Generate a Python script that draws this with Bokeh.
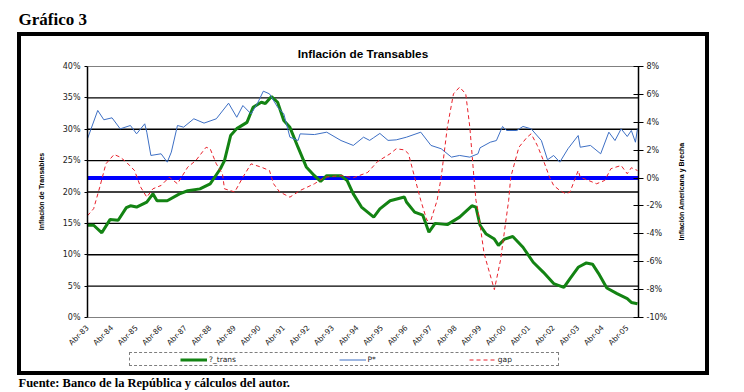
from math import pi
from bokeh.plotting import figure
from bokeh.models import (Range1d, LinearAxis, Label, Legend, LegendItem,
                          FixedTicker, PrintfTickFormatter)
from bokeh.embed import file_html
from bokeh.resources import INLINE

# ---------------- data (months counted from Abr-83) ----------------
year_labels = ["Abr-83", "Abr-84", "Abr-85", "Abr-86", "Abr-87", "Abr-88", "Abr-89", "Abr-90",
               "Abr-91", "Abr-92", "Abr-93", "Abr-94", "Abr-95", "Abr-96", "Abr-97", "Abr-98",
               "Abr-99", "Abr-00", "Abr-01", "Abr-02", "Abr-03", "Abr-04", "Abr-05"]
label_months = [0, 12, 24, 36, 48, 60, 72, 84, 96, 108, 120, 132, 144, 156, 168, 180,
                192, 204, 216, 228, 240, 252, 264]

trans_month = [0, 3, 7, 11, 15, 19, 21, 24, 29, 32, 34, 39, 45, 49, 55, 60, 65, 67, 70, 73,
               78, 81, 85, 87, 90, 93, 96, 99, 103, 107, 111, 114, 117, 124, 127, 130, 134,
               140, 143, 148, 155, 156, 160, 164, 167, 170, 176, 182, 188, 190, 192, 195, 199,
               201, 204, 208, 213, 218, 223, 228, 233, 236, 240, 244, 247, 250, 254, 259, 264,
               266, 269]
trans_val = [14.7, 14.7, 13.5, 15.6, 15.5, 17.5, 17.8, 17.6, 18.4, 19.7, 18.6, 18.6, 19.7, 20.2,
             20.5, 21.3, 23.7, 25.0, 29.0, 30.1, 31.1, 33.5, 34.3, 34.1, 35.2, 34.3, 31.4, 30.3,
             27.1, 24.0, 22.6, 21.7, 22.6, 22.6, 21.8, 19.7, 17.6, 16.0, 17.3, 18.6, 19.2, 18.4,
             16.8, 16.3, 13.6, 15.0, 14.8, 16.0, 17.8, 17.6, 14.7, 13.3, 12.5, 11.5, 12.5, 12.9,
             11.2, 8.8, 7.2, 5.4, 4.8, 6.2, 8.0, 8.7, 8.5, 7.0, 4.7, 3.8, 3.0, 2.4, 2.2]

pstar_month = [0, 5, 8, 12, 16, 21, 24, 28, 29, 31, 36, 39, 41, 44, 47, 52, 57, 63, 69, 73,
               76, 80, 83, 86, 89, 93, 96, 99, 103, 104, 111, 117, 124, 130, 135, 138, 140, 143,
               147, 151, 156, 163, 168, 173, 178, 182, 187, 191, 192, 197, 200, 203, 205, 210,
               213, 217, 222, 225, 228, 231, 235, 240, 241, 246, 251, 255, 258, 261, 264, 266,
               268, 269]
pstar_val = [2.82, 4.85, 4.18, 4.32, 3.53, 3.77, 3.17, 3.89, 3.29, 1.62, 1.74, 1.14, 1.86, 3.77,
             3.65, 4.25, 3.94, 4.25, 5.37, 4.36, 5.20, 4.60, 5.32, 6.23, 6.04, 5.08, 4.61, 2.93,
             2.69, 3.17, 3.12, 3.29, 2.69, 2.34, 2.93, 2.70, 2.90, 3.20, 2.70, 2.74, 2.93, 3.29,
             2.34, 2.10, 1.50, 1.62, 1.50, 1.74, 2.17, 2.57, 2.69, 3.70, 3.41, 3.41, 3.70, 3.53,
             2.69, 1.31, 1.62, 1.14, 2.10, 3.05, 2.21, 2.34, 1.74, 3.29, 2.69, 3.53, 2.98, 3.41,
             2.57, 3.53]

gap_month = [0, 3, 6, 9, 13, 16, 19, 23, 26, 29, 32, 36, 40, 44, 49, 53, 58, 60, 63, 66, 67,
             72, 76, 80, 85, 89, 91, 94, 99, 104, 111, 116, 124, 130, 137, 142, 148, 151, 155,
             157, 160, 163, 166, 168, 171, 173, 176, 179, 182, 185, 187, 189, 190, 191, 194,
             199, 202, 206, 207, 211, 215, 217, 220, 223, 226, 228, 231, 234, 236, 240, 241,
             245, 249, 253, 256, 261, 264, 266, 269]
gap_val = [-2.7, -2.2, -0.65, 1.02, 1.69, 1.50, 1.14, 0.54, -0.65, -1.37, -0.77, -0.53, 0.06,
           -0.41, 0.78, 1.26, 2.21, 2.10, 1.02, 0.31, -0.77, -1.0, 0.06, 1.02, 0.78, 0.54, -0.41,
           -1.0, -1.37, -0.89, -0.41, 0.06, 0.18, 0.02, 0.4, 1.2, 1.74, 2.10, 2.02, 1.74, 0.06,
           -1.6, -3.04, -3.0, -1.6, 0.06, 3.65, 6.04, 6.52, 6.04, 3.65, 0.06, -1.6, -2.33, -5.43,
           -8.0, -5.9, -1.6, 0.06, 2.21, 2.93, 3.17, 2.34, 1.26, 0.06, -0.53, -0.89, -1.13, -1.0,
           0.54, 0.06, -0.17, -0.41, -0.17, 0.67, 0.9, 0.31, 0.74, 0.54]

left_ticks = [0, 5, 10, 15, 20, 25, 30, 35, 40]
right_ticks = [-10, -8, -6, -4, -2, 0, 2, 4, 6, 8]

# ---------------- geometry (pixels of the 744x392 page) ----------------
W, H = 744, 392
PX0, PX1 = 87, 638      # plot area left / right
PY0, PY1 = 66, 317      # plot area top / bottom
X0, X1 = 0, 269.5       # month extent of the plot area
L0, L1 = left_ticks[0], left_ticks[-1]
R0, R1 = right_ticks[0], right_ticks[-1]

def extend(a, b, p_lo, p_hi, p_before, p_after):
    k = (b - a) / (p_hi - p_lo)
    return a - k * p_before, b + k * p_after

xr = extend(X0, X1, PX0, PX1, PX0, W - PX1)
yl = extend(L0, L1, PY0, PY1, H - PY1, PY0)
yr = extend(R0, R1, PY0, PY1, H - PY1, PY0)

SANS = "Liberation Sans"
SERIF = "Liberation Serif"
TICK = "DejaVu Sans"
NB = "\u00a0"

frame_css = {
    "background-color": "white",
    "background-image": ", ".join(["linear-gradient(#000, #000)"] * 4),
    "background-size": "692px 4px, 692px 4px, 4px 343px, 4px 343px",
    "background-position": "17px 32px, 17px 371px, 17px 32px, 705px 32px",
    "background-repeat": "no-repeat",
}

p = figure(width=W, height=H, output_backend="svg", toolbar_location=None, title=None,
           x_range=Range1d(*xr), y_range=Range1d(*yl),
           min_border_left=0, min_border_right=0, min_border_top=0, min_border_bottom=0,
           styles=frame_css)
p.extra_y_ranges = {"right": Range1d(*yr)}
p.background_fill_color = None
p.border_fill_color = None
p.outline_line_color = None
p.xgrid.visible = False
p.ygrid.visible = False

# left axis (drawn at the left edge of the plot area)
ya = p.yaxis[0]
ya.fixed_location = X0
ya.bounds = (L0, L1)
ya.ticker = FixedTicker(ticks=left_ticks)
ya.formatter = PrintfTickFormatter(format="%d%%")
ya.axis_line_color = "black"
ya.axis_line_width = 1.5
ya.major_tick_in = 0
ya.major_tick_out = 3
ya.minor_tick_line_color = None
ya.major_label_standoff = 4
ya.major_label_text_font = TICK
ya.major_label_text_font_size = "8px"
ya.major_label_text_color = "#222222"

# right axis
ra = LinearAxis(y_range_name="right", ticker=FixedTicker(ticks=right_ticks),
                formatter=PrintfTickFormatter(format="%d%%"), fixed_location=X1,
                bounds=(R0, R1))
ra.axis_line_color = "black"
ra.axis_line_width = 1.5
ra.major_tick_in = 5
ra.major_tick_out = 5
ra.minor_tick_line_color = None
ra.major_label_standoff = 3
ra.major_label_text_font = TICK
ra.major_label_text_font_size = "8px"
ra.major_label_text_color = "#222222"
p.add_layout(ra, "right")

# bottom axis (category labels under the 0% line)
xa = p.xaxis[0]
xa.fixed_location = L0
xa.bounds = (X0, X1)
xa.ticker = FixedTicker(ticks=label_months)
xa.major_label_overrides = {m: s for m, s in zip(label_months, year_labels)}
xa.major_label_orientation = pi / 4
xa.axis_line_color = None
xa.major_tick_line_color = None
xa.minor_tick_line_color = None
xa.major_label_standoff = 3
xa.major_label_text_font = TICK
xa.major_label_text_font_size = "7.5px"
xa.major_label_text_color = "#222222"

# horizontal grid lines of the left axis, plot-area border lines
inner = left_ticks[1:-1]
p.segment(x0=[X0] * len(inner), x1=[X1] * len(inner), y0=inner, y1=inner,
          line_color="black", line_width=1.3)
p.segment(x0=[X0, X0], x1=[X1, X1], y0=[L0, L1], y1=[L0, L1],
          line_color="#808080", line_width=1)
# zero line of the right axis
p.segment(x0=[X0], x1=[X1], y0=[0], y1=[0], y_range_name="right",
          line_color="#0000FF", line_width=4)

# series
r_trans = p.line(trans_month, trans_val, line_color="#138313", line_width=3)
r_pstar = p.line(pstar_month, pstar_val, y_range_name="right", line_color="#3D6FC4", line_width=1)
r_gap = p.line(gap_month, gap_val, y_range_name="right", line_color="#E8202A", line_width=1,
               line_dash="4 3")
r_blank = p.line([X0], [L0], line_alpha=0)  # spacer entry for the legend box

legend = Legend(items=[LegendItem(label=NB * 5, renderers=[r_blank]),
                       LegendItem(label="?_trans" + NB * 43, renderers=[r_trans]),
                       LegendItem(label="P*" + NB * 39, renderers=[r_pstar]),
                       LegendItem(label="gap" + NB * 19, renderers=[r_gap])],
                location=(129, H - 366), orientation="horizontal", margin=0, padding=1,
                spacing=0, glyph_width=27, glyph_height=9, label_height=10, label_standoff=2,
                label_text_font=TICK, label_text_font_size="7.5px", label_text_color="#222222",
                border_line_color="black", border_line_width=1, border_line_dash="4 2",
                background_fill_color="white", background_fill_alpha=1)
p.add_layout(legend)

# texts (screen units, origin at the bottom-left of the page)
def lab(text, x, y, size, font=SANS, align="left", baseline="alphabetic", angle=0):
    p.add_layout(Label(x=x, y=H - y, x_units="screen", y_units="screen", text=text,
                       text_font=font, text_font_size=size, text_font_style="bold",
                       text_align=align, text_baseline=baseline, angle=angle,
                       text_color="black"))

lab("Gráfico 3", 18, 19, "17px", font=SERIF, baseline="middle")
lab("Inflación de Transables", (PX0 + PX1) / 2, 53, "11.8px", align="center", baseline="middle")
lab("Inflación de Transables", 41, 191, "7px", align="center", baseline="middle", angle=pi / 2)
lab("Inflación Americana y Brecha", 681, 191, "7px", align="center", baseline="middle",
    angle=pi / 2)
lab("Fuente: Banco de la República y cálculos del autor.", 18, 382, "12.5px", font=SERIF,
    baseline="middle")

open("out.html", "w").write(file_html(p, INLINE))
